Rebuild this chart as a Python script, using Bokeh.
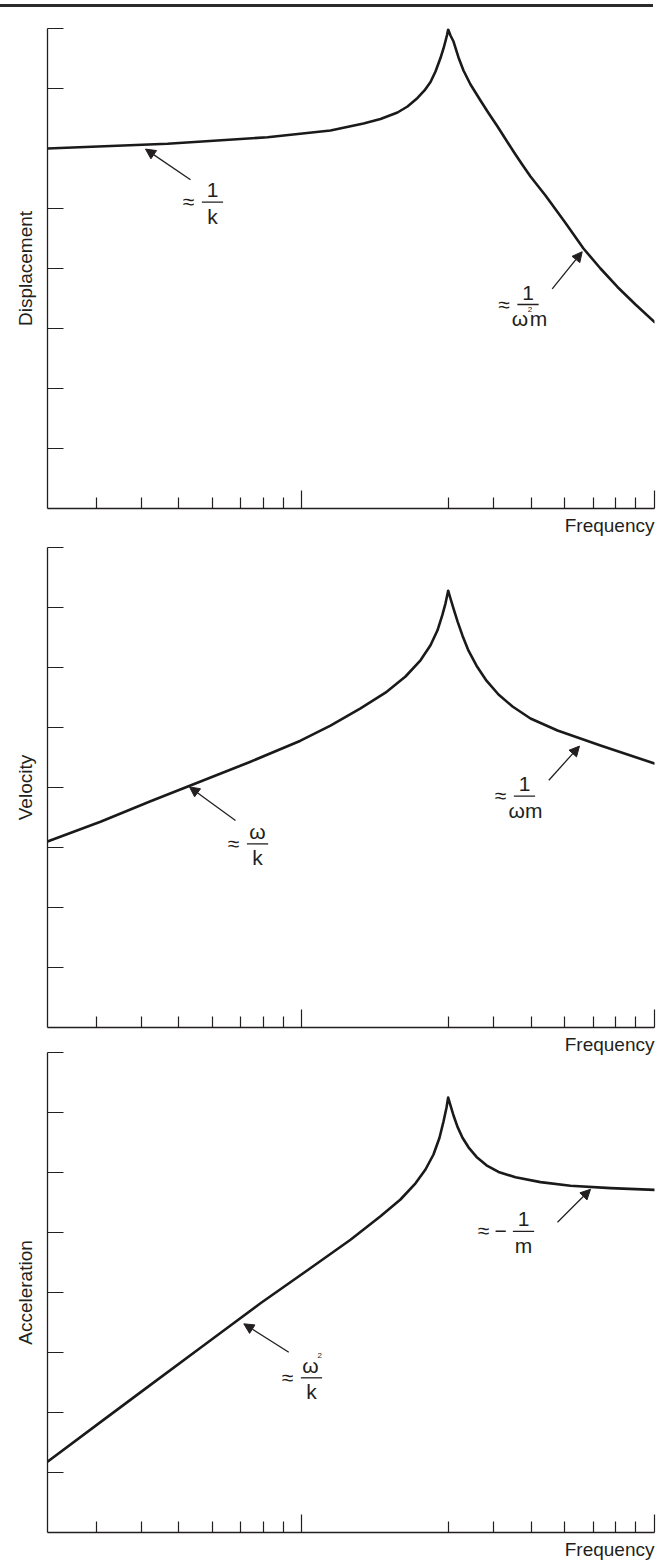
from bokeh.plotting import figure
from bokeh.models import (Range1d, FixedTicker, Title, Label, Arrow, NormalHead,
                          Div, CustomJSTickFormatter)
from bokeh.layouts import column
from bokeh.embed import file_html
from bokeh.resources import INLINE

FONT = "'Liberation Sans', Arial, sans-serif"
INK = "#231f20"

# ---------------- data ----------------
# frequency-axis positions (0 = axis origin, 100 = axis end)
X_MAJOR_TICKS = [41.80, 100.0]
X_MINOR_TICKS = [8.02, 15.50, 21.66, 27.18, 31.86, 35.63, 38.86,
                 66.05, 73.53, 79.67, 85.21, 89.95, 93.59, 96.87]
Y_TICKS = [1, 2, 3, 4, 5, 6, 7, 8]

disp_x = [0.0, 19.77, 36.24, 46.62, 52.06, 54.86, 57.66, 59.31, 60.96, 62.11, 63.10, 63.92,
          64.74, 65.24, 65.57, 65.82, 66.01, 66.39, 66.89, 67.71, 68.53, 69.69, 71.33, 72.65,
          74.14, 75.45, 76.77, 78.09, 79.57, 82.04, 85.34, 88.30, 91.10, 93.90, 96.87, 100.0]
disp_y = [6.00, 6.078, 6.188, 6.30, 6.417, 6.492, 6.60, 6.70, 6.842, 6.967, 7.108, 7.283,
          7.508, 7.667, 7.792, 7.892, 7.983, 7.883, 7.783, 7.517, 7.30, 7.067, 6.80, 6.592,
          6.367, 6.158, 5.95, 5.75, 5.533, 5.217, 4.758, 4.333, 4.00, 3.692, 3.40, 3.108]

vel_x = [0.0, 8.73, 16.97, 25.21, 33.44, 41.68, 46.62, 51.57, 55.68, 58.98, 61.45, 63.10,
         64.25, 65.07, 65.57, 66.01, 66.39, 66.89, 67.55, 68.37, 69.36, 70.68, 72.32, 74.30,
         76.61, 79.57, 84.02, 91.10, 100.0]
vel_y = [3.10, 3.43, 3.77, 4.10, 4.43, 4.78, 5.03, 5.32, 5.58, 5.85, 6.12, 6.37,
         6.62, 6.88, 7.07, 7.28, 7.15, 6.98, 6.77, 6.53, 6.28, 6.03, 5.78, 5.55,
         5.35, 5.15, 4.95, 4.70, 4.40]

acc_x = [0.0, 8.73, 16.97, 25.21, 30.15, 35.09, 42.83, 49.92, 54.86, 58.15, 60.63, 62.27,
         63.59, 64.58, 65.24, 65.73, 66.01, 66.39, 66.89, 67.55, 68.37, 69.36, 70.68, 72.32,
         74.30, 77.10, 81.22, 86.16, 92.75, 100.0]
acc_y = [1.18, 1.84, 2.46, 3.08, 3.45, 3.82, 4.37, 4.88, 5.27, 5.55, 5.82, 6.05,
         6.30, 6.58, 6.85, 7.08, 7.25, 7.12, 6.95, 6.76, 6.58, 6.42, 6.26, 6.12,
         6.01, 5.92, 5.84, 5.78, 5.74, 5.71]

Y_LABELS = ["Displacement", "Velocity", "Acceleration"]
X_LABEL = "Frequency"

# ---------------- annotations (data-space anchors) ----------------
# arrows: (tail_x, tail_y, head_x, head_y)
ARROWS = [
    [(23.56, 5.48, 16.14, 5.99), (83.15, 3.66, 88.09, 4.28)],
    [(30.97, 3.45, 23.39, 4.01), (82.59, 4.12, 87.64, 4.69)],
    [(39.75, 3.005, 32.34, 3.478), (84.02, 5.17, 89.46, 5.72)],
]
# fractions: anchor = centre of fraction bar; parts = (text, dx px, dy px, size px)
FS = 21
NUM_DY = 4.5
DEN_DY = -21.5
APPROX = ("≈", -24, -7, FS)
FRACTIONS = [
    [
        dict(x=27.18, y=5.105, parts=[APPROX, ("1", 0, NUM_DY, FS), ("k", 0, DEN_DY, FS)]),
        dict(x=79.16, y=3.40, parts=[APPROX, ("1", 0, NUM_DY, FS), ("ω", -8, DEN_DY, FS),
                                     ("2", 2, -12.5, 8), ("m", 10.5, DEN_DY, FS)]),
    ],
    [
        dict(x=34.60, y=3.06, parts=[APPROX, ("ω", 0, NUM_DY, FS), ("k", 0, DEN_DY, FS)]),
        dict(x=78.58, y=3.855, parts=[APPROX, ("1", 0, NUM_DY, FS), ("ωm", 1, DEN_DY, FS)]),
    ],
    [
        dict(x=43.49, y=2.578, parts=[APPROX, ("ω", -1, NUM_DY, FS), ("2", 8.3, 14.5, 8),
                                      ("k", 0, DEN_DY, FS)]),
        dict(x=78.42, y=5.02, parts=[("≈", -40, -7, FS), ("−", -23, -7, FS),
                                     ("1", 0, NUM_DY, FS), ("m", 0, DEN_DY, FS)]),
    ],
]
BAR_HALF = 1.75      # half width of fraction bar in x units
TEXT_SHIFT = 7.5     # baseline correction of the renderer, px

SERIES = [(disp_x, disp_y), (vel_x, vel_y), (acc_x, acc_y)]
# figure geometry: (height, min_border_top, min_border_bottom, margin, title standoff)
GEOM = [(533, 21, 32, (0, 0, 0, 0), 8),
        (520, 7, 33, (0, 0, 0, 0), 9),
        (516, 4, 32, (-12, 0, 0, 0), 9)]

blank = CustomJSTickFormatter(code="return ''")


def make_panel(i):
    h, top, bottom, margin, standoff = GEOM[i]
    p = figure(width=660, height=h, x_range=Range1d(0, 100), y_range=Range1d(0, 8),
               output_backend="svg", toolbar_location=None,
               min_border_left=47, min_border_right=6,
               min_border_top=top, min_border_bottom=bottom, margin=margin)
    p.background_fill_alpha = 0
    p.border_fill_alpha = 0
    p.outline_line_color = None
    p.grid.visible = False

    xa = p.xaxis[0]
    xa.ticker = FixedTicker(ticks=X_MAJOR_TICKS, minor_ticks=X_MINOR_TICKS)
    xa.formatter = blank
    xa.major_tick_in = 18
    xa.major_tick_out = 0
    xa.minor_tick_in = 11
    xa.minor_tick_out = 0
    xa.major_label_standoff = 0
    xa.major_label_text_font_size = "0px"
    xa.axis_line_color = INK
    xa.axis_line_width = 1.3
    xa.major_tick_line_color = INK
    xa.major_tick_line_width = 1.2
    xa.minor_tick_line_color = INK
    xa.minor_tick_line_width = 1.2

    ya = p.yaxis[0]
    ya.ticker = FixedTicker(ticks=Y_TICKS, minor_ticks=[])
    ya.formatter = blank
    ya.major_tick_in = 16
    ya.major_tick_out = 0
    ya.minor_tick_in = 0
    ya.minor_tick_out = 0
    ya.major_label_standoff = 0
    ya.major_label_text_font_size = "0px"
    ya.axis_line_color = INK
    ya.axis_line_width = 1.3
    ya.major_tick_line_color = INK
    ya.major_tick_line_width = 1.2
    ya.axis_label = Y_LABELS[i]
    ya.axis_label_standoff = 12
    ya.axis_label_text_font = FONT
    ya.axis_label_text_font_size = "19px"
    ya.axis_label_text_font_style = "normal"
    ya.axis_label_text_color = INK

    t = Title(text=X_LABEL, align="right", text_font=FONT, text_font_size="19px",
              text_font_style="normal", text_color=INK, standoff=standoff)
    p.add_layout(t, "below")

    xs, ys = SERIES[i]
    p.line(xs, ys, line_color="#1a1a1a", line_width=2.6, line_join="round", line_cap="round")

    for (x0, y0, x1, y1) in ARROWS[i]:
        p.add_layout(Arrow(x_start=x0, y_start=y0, x_end=x1, y_end=y1,
                           line_color=INK, line_width=1.3,
                           end=NormalHead(size=10, fill_color=INK, line_color=INK, line_width=1)))

    for fr in FRACTIONS[i]:
        p.segment(x0=[fr["x"] - BAR_HALF], y0=[fr["y"]], x1=[fr["x"] + BAR_HALF], y1=[fr["y"]],
                  line_color=INK, line_width=1.3)
        for (txt, dx, dy, size) in fr["parts"]:
            p.add_layout(Label(x=fr["x"], y=fr["y"], text=txt, x_offset=dx,
                               y_offset=dy + TEXT_SHIFT,
                               text_align="center", text_baseline="alphabetic",
                               text_font=FONT, text_font_size=f"{size}px", text_color=INK))
    return p


rule = Div(text="", width=653, height=3, margin=(4, 0, 0, 0),
           styles={"background-color": "#2b2b2b"})
panels = [make_panel(i) for i in range(3)]
root = column(rule, *panels, spacing=0, margin=(0, 0, 0, 0))

open("out.html", "w").write(file_html(root, INLINE))
